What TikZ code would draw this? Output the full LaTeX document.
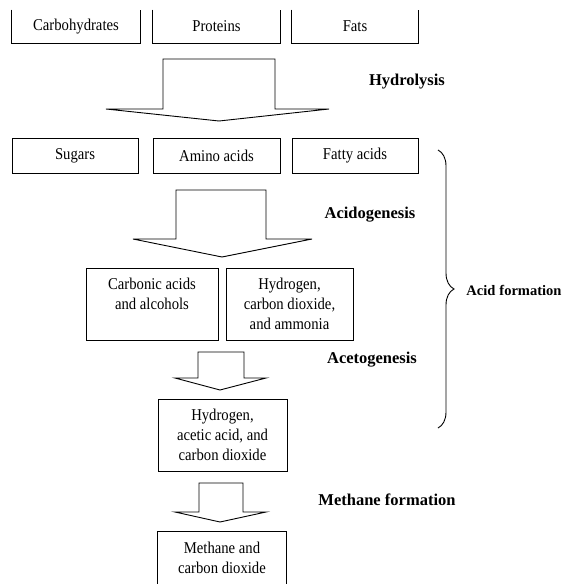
\documentclass[tikz,border=0pt]{standalone}
\usepackage{fontspec}
\setmainfont{Liberation Serif}
\newfontfamily\boxfont[FakeStretch=0.89]{Liberation Serif}
\usetikzlibrary{calc,decorations.pathreplacing}
\tikzset{
  stage/.style={font=\boxfont\fontsize{16.5}{20}\selectfont, align=center, inner sep=0pt},
  box/.style={stage, draw, minimum height=35pt},
  openbox/.style={stage, minimum height=33pt},
  step label/.style={font=\fontsize{16.5}{20}\selectfont\bfseries, inner sep=0pt},
  fat arrow/.style={draw, line width=0.9pt, fill=white},
}

\begin{document}
\begin{tikzpicture}[x=1pt, y=-1pt, line width=0.9pt]
      \useasboundingbox (0,0) rectangle (572,584);

      % substrates (top edge cut off)
      \node[openbox, minimum width=128pt] at (76,26.5) (carbo) {Carbohydrates};
      \node[openbox, minimum width=127pt] at (216.5,26.5) (prot) {Proteins};
      \node[openbox, minimum width=126pt] at (355,26.5) (fats) {Fats};
      \draw (carbo.north west) -- (carbo.south west) -- (carbo.south east) -- (carbo.north east);
      \draw (prot.north west) -- (prot.south west) -- (prot.south east) -- (prot.north east);
      \draw (fats.north west) -- (fats.south west) -- (fats.south east) -- (fats.north east);

      % hydrolysis products
      \node[box, minimum width=126pt] at (75,155.5) (sugars) {Sugars};
      \node[box, minimum width=127pt] at (216.5,155.5) (amino) {Amino acids};
      \node[box, minimum width=126pt] at (355,155.5) (fatty) {Fatty acids};

      % acidogenesis products
      \node[box, minimum width=132pt, minimum height=72pt] at (152,304) (carbonic) {Carbonic acids\\and alcohols\\\phantom{x}};
      \node[box, minimum width=127pt, minimum height=72pt] at (289.5,304) (hydro1) {Hydrogen,\\carbon dioxide,\\and ammonia};

      % acetogenesis products
      \node[box, minimum width=129pt, minimum height=72pt] at (222.5,435) (hydro2) {Hydrogen,\\acetic acid, and\\carbon dioxide};

      % methane (bottom edge cut off)
      \node[stage, minimum width=128pt, minimum height=51pt] at (222,557.5) (methane) {Methane and\\carbon dioxide};
      \draw ($(methane.south west)+(0,10)$) -- (methane.north west) -- (methane.north east) -- ($(methane.south east)+(0,10)$);

      % block arrows
      \draw[fat arrow] (163,59) -- (163,109) -- (106,109) -- (219,121) -- (329,109) -- (275,109) -- (275,59) -- cycle;
      \draw[fat arrow] (176,190) -- (176,239) -- (133,239) -- (222,257) -- (312,239) -- (266,239) -- (266,190) -- cycle;
      \draw[fat arrow] (198,352) -- (198,378) -- (175,378) -- (220,390) -- (266,378) -- (244,378) -- (244,352) -- cycle;
      \draw[fat arrow] (199,483) -- (199,512) -- (175,512) -- (220,522) -- (266,512) -- (243,512) -- (243,483) -- cycle;

      \node[step label] at (407,82) (hydrolysis) {Hydrolysis};
      \node[step label] at (370,215) (acido) {Acidogenesis};
      \node[step label] at (372,360) (aceto) {Acetogenesis};
      \node[step label] at (387,500) (methform) {Methane formation};

      % acid formation brace
      \coordinate (bracetop) at (438,150);
      \coordinate (bracebot) at (438,428);
      \draw[decorate, decoration={brace, amplitude=16pt}] (bracetop) -- (bracebot);
      \node[step label, font=\fontsize{14.5}{17}\selectfont\bfseries, anchor=west] at (466,290) (acidform) {Acid\hspace{4pt}formation};
\end{tikzpicture}
\end{document}
